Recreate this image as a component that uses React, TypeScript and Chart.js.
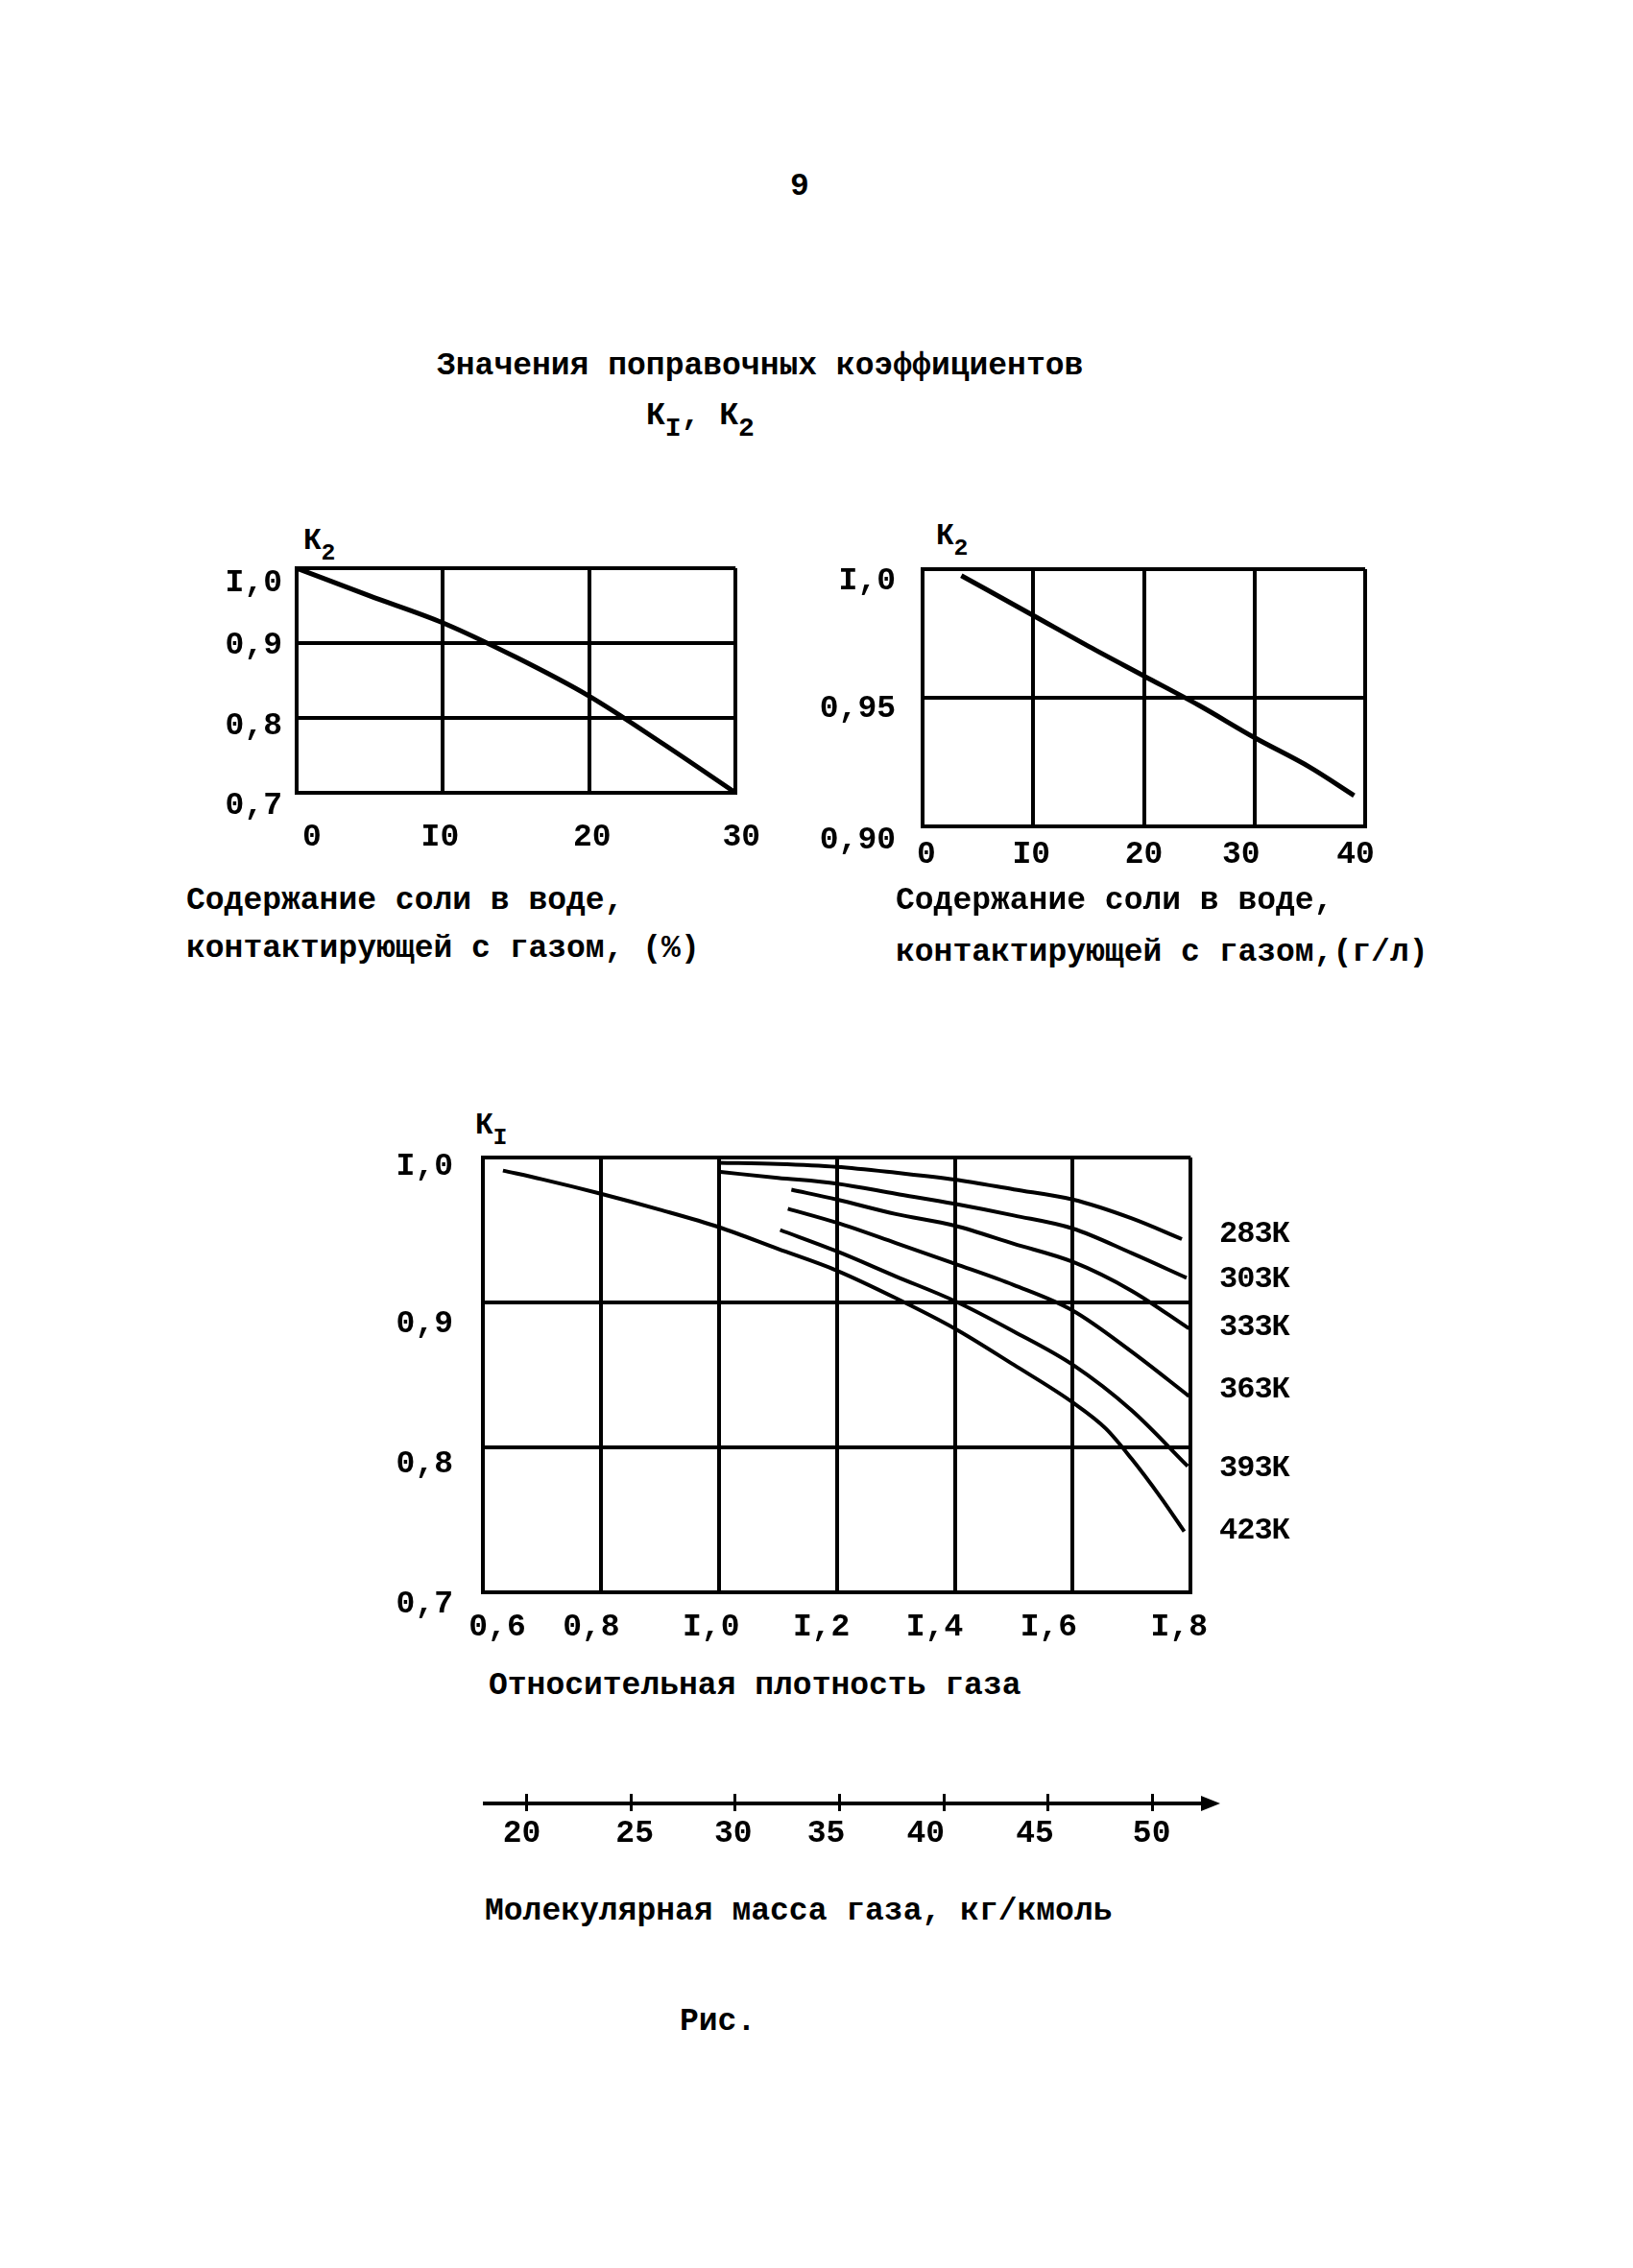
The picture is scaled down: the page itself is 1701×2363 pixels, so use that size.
import React, { useEffect, useRef } from 'react';
import { Chart, registerables } from 'chart.js';

Chart.register(...registerables);

const FONT = "'Liberation Mono', 'DejaVu Sans Mono', monospace";

// ---- Chart 1: K2 vs salt content, %
const saltPct = [0, 5, 10, 15, 20, 25, 30];
const k2Pct = [1.0, 0.963, 0.927, 0.881, 0.829, 0.766, 0.7];
const pctXTicks = [0, 10, 20, 30];
const pctXLabels = ['0', 'I0', '20', '30'];
const pctYTicks = [0.7, 0.8, 0.9, 1.0];
const pctYLabels = ['0,7', '0,8', '0,9', 'I,0'];

// ---- Chart 2: K2 vs salt content, g/l
const saltGl = [3.5, 10, 15, 20, 25, 30, 35, 39];
const k2Gl = [0.9975, 0.982, 0.97, 0.9585, 0.947, 0.9345, 0.923, 0.912];
const glXTicks = [0, 10, 20, 30, 40];
const glXLabels = ['0', 'I0', '20', '30', '40'];
const glYTicks = [0.9, 0.95, 1.0];
const glYLabels = ['0,90', '0,95', 'I,0'];

// ---- Chart 3: K1 vs relative gas density
const tempLabels = ['283К', '303К', '333К', '363К', '393К', '423К'];
const d283 = [1.0, 1.1, 1.2, 1.3, 1.4, 1.5, 1.6, 1.7, 1.785];
const k283 = [0.9964, 0.9955, 0.9935, 0.9895, 0.9848, 0.978, 0.971, 0.958, 0.9437];
const d303 = [1.003, 1.1, 1.2, 1.3, 1.4, 1.5, 1.6, 1.7, 1.793];
const k303 = [0.99, 0.986, 0.982, 0.975, 0.968, 0.96, 0.951, 0.934, 0.917];
const d333 = [1.123, 1.2, 1.3, 1.4, 1.5, 1.6, 1.7, 1.797];
const k333 = [0.9778, 0.971, 0.961, 0.953, 0.9405, 0.928, 0.908, 0.882];
const d363 = [1.117, 1.2, 1.3, 1.4, 1.5, 1.6, 1.7, 1.797];
const k363 = [0.9647, 0.955, 0.941, 0.9267, 0.912, 0.8944, 0.866, 0.8354];
const d393 = [1.104, 1.2, 1.3, 1.4, 1.5, 1.6, 1.7, 1.795];
const k393 = [0.95, 0.9353, 0.918, 0.901, 0.88, 0.857, 0.8255, 0.787];
const d423 = [0.634, 0.7, 0.8, 0.9, 1.0, 1.1, 1.2, 1.3, 1.4, 1.5, 1.6, 1.656, 1.7, 1.75, 1.789];
const k423 = [0.991, 0.985, 0.975, 0.964, 0.952, 0.937, 0.922, 0.903, 0.882, 0.857, 0.831, 0.813, 0.792, 0.765, 0.742];
const densXTicks = [0.6, 0.8, 1.0, 1.2, 1.4, 1.6, 1.8];
const densXLabels = ['0,6', '0,8', 'I,0', 'I,2', 'I,4', 'I,6', 'I,8'];
const densYTicks = [0.7, 0.8, 0.9, 1.0];
const densYLabels = ['0,7', '0,8', '0,9', 'I,0'];

// ---- Molecular mass axis
const massTicks = [20, 25, 30, 35, 40, 45, 50];
const massLabels = ['20', '25', '30', '35', '40', '45', '50'];
const massMin = 18.0;
const massMax = 52.5;

type AxisSpec = {
  min: number;
  max: number;
  ticks: number[];
  labels: string[];
  pad: number;
  size: number;
};

function axis(spec: AxisSpec, horizontal: boolean, gridW = 4): any {
  return {
    type: 'linear',
    min: spec.min,
    max: spec.max,
    afterBuildTicks: (a: any) => {
      a.ticks = spec.ticks.map((v) => ({ value: v }));
    },
    afterFit: (a: any) => {
      if (horizontal) a.height = spec.size;
      else a.width = spec.size;
    },
    grid: { color: '#000', lineWidth: gridW, drawTicks: false },
    border: { display: true, color: '#000', width: gridW },
    ticks: {
      color: '#000',
      font: { family: FONT, size: 33, weight: 'bold' },
      padding: spec.pad,
      labelOffset: 0,
      maxRotation: 0,
      minRotation: 0,
      autoSkip: false,
      callback: (_v: any, i: number) => spec.labels[i],
    },
  };
}

const pts = (xs: number[], ys: number[]) => xs.map((x, i) => ({ x, y: ys[i] }));

const line = (xs: number[], ys: number[], w: number) => ({
  data: pts(xs, ys),
  showLine: true,
  borderColor: '#000',
  backgroundColor: '#000',
  borderWidth: w,
  pointRadius: 0,
  cubicInterpolationMode: 'monotone',
  fill: false,
});

// shifts individual tick labels (layout only) the way the hand-typed labels sit on the page
const nudgePlugin = {
  id: 'tickNudge',
  beforeDraw(chart: any, _args: any, opts: any) {
    ['x', 'y'].forEach((id) => {
      const offs: number[] | undefined = opts && opts[id];
      const scale = chart.scales[id];
      if (!offs || !scale || !scale.getLabelItems) return;
      const items = scale.getLabelItems();
      items.forEach((it: any, i: number) => {
        if (it.__nudged) return;
        it.__nudged = true;
        const t = it.options.translation;
        if (id === 'x') t[0] += offs[i] || 0;
        else t[1] += offs[i] || 0;
      });
    });
  },
};

function baseOptions(padding: any, scales: any, nudge: any): any {
  return {
    animation: false,
    responsive: false,
    maintainAspectRatio: false,
    events: [],
    layout: { padding, autoPadding: false },
    plugins: {
      legend: { display: false },
      tooltip: { enabled: false },
      title: { display: false },
      tickNudge: nudge,
    },
    scales,
  };
}

function ChartBox(props: { left: number; top: number; width: number; height: number; build: () => any }) {
  const ref = useRef<HTMLCanvasElement>(null);
  useEffect(() => {
    const chart = new Chart(ref.current as HTMLCanvasElement, props.build());
    return () => chart.destroy();
  }, []);
  return (
    <canvas
      ref={ref}
      width={props.width}
      height={props.height}
      style={{ position: 'absolute', left: props.left, top: props.top, width: props.width, height: props.height }}
    />
  );
}

const arrowPlugin = {
  id: 'axisArrow',
  afterDraw(chart: any) {
    const s = chart.scales.x;
    const ctx = chart.ctx;
    const y = s.top;
    const x = s.right;
    ctx.save();
    ctx.fillStyle = '#000';
    ctx.beginPath();
    ctx.moveTo(x - 4, y - 8);
    ctx.lineTo(x + 16, y);
    ctx.lineTo(x - 4, y + 8);
    ctx.closePath();
    ctx.fill();
    ctx.restore();
  },
};

function Txt(props: { x: number; y: number; size?: number; center?: boolean; spacing?: number; children: any }) {
  return (
    <div
      style={{
        position: 'absolute',
        left: props.x,
        top: props.y - 18,
        lineHeight: '40px',
        fontSize: props.size ?? 33,
        fontFamily: FONT,
        fontWeight: 'bold',
        whiteSpace: 'pre',
        color: '#000',
        letterSpacing: props.spacing ?? 0,
        transform: props.center ? 'translateX(-50%)' : undefined,
      }}
    >
      {props.children}
    </div>
  );
}

function KSub(props: { x: number; y: number; sub: string; size?: number }) {
  const size = props.size ?? 31;
  return (
    <Txt x={props.x} y={props.y} size={size}>
      К<span style={{ fontSize: size * 0.8, position: 'relative', top: 11 }}>{props.sub}</span>
    </Txt>
  );
}

export default function App() {
  const build1 = () => ({
    type: 'scatter',
    data: { datasets: [line(saltPct, k2Pct, 5)] },
    options: baseOptions(
      { top: 60, right: 40, left: 0, bottom: 0 },
      {
        x: axis({ min: 0, max: 30, ticks: pctXTicks, labels: pctXLabels, pad: 27, size: 80 }, true),
        y: axis({ min: 0.7, max: 1.0, ticks: pctYTicks, labels: pctYLabels, pad: 15, size: 159 }, false),
      },
      { x: [16, -3, 3, 6], y: [14, 9, 3, 16] }
    ),
    plugins: [nudgePlugin],
  });

  const build2 = () => ({
    type: 'scatter',
    data: { datasets: [line(saltGl, k2Gl, 5)] },
    options: baseOptions(
      { top: 60, right: 40, left: 0, bottom: 0 },
      {
        x: axis({ min: 0, max: 40, ticks: glXTicks, labels: glXLabels, pad: 10, size: 60 }, true),
        y: axis({ min: 0.9, max: 1.0, ticks: glYTicks, labels: glYLabels, pad: 28, size: 141 }, false),
      },
      { x: [4, -2, 0, -14, -10], y: [15, 12, 13] }
    ),
    plugins: [nudgePlugin],
  });

  const build3 = () => ({
    type: 'scatter',
    data: {
      datasets: [
        { label: tempLabels[0], ...line(d283, k283, 4) },
        { label: tempLabels[1], ...line(d303, k303, 4) },
        { label: tempLabels[2], ...line(d333, k333, 4) },
        { label: tempLabels[3], ...line(d363, k363, 4) },
        { label: tempLabels[4], ...line(d393, k393, 4) },
        { label: tempLabels[5], ...line(d423, k423, 4) },
      ],
    },
    options: baseOptions(
      { top: 70, right: 40, left: 0, bottom: 0 },
      {
        x: axis({ min: 0.6, max: 1.8, ticks: densXTicks, labels: densXLabels, pad: 17, size: 70 }, true),
        y: axis({ min: 0.7, max: 1.0, ticks: densYTicks, labels: densYLabels, pad: 31, size: 123 }, false),
      },
      { x: [15, -10, -8, -16, -21, -25, -12], y: [13, 18, 23, 10] }
    ),
    plugins: [nudgePlugin],
  });

  const build4 = () => {
    const x = axis({ min: massMin, max: massMax, ticks: massTicks, labels: massLabels, pad: 4, size: 60 }, true, 4);
    x.grid = { color: '#000', lineWidth: 3, drawTicks: true, tickLength: 8, drawOnChartArea: true };
    return {
      type: 'scatter',
      data: { datasets: [] },
      options: baseOptions(
        { top: 19, right: 40, left: 25, bottom: 0 },
        {
          x,
          y: { type: 'linear', display: false, min: 0, max: 1 },
        },
        { x: [-5, 4, -2, -14, -19, -14, -1] }
      ),
      plugins: [arrowPlugin, nudgePlugin],
    };
  };

  const seriesLabelY = [1284, 1331, 1381, 1446, 1528, 1593];

  return (
    <div style={{ position: 'absolute', left: 0, top: 0, width: 1701, height: 2363, background: '#fff', overflow: 'hidden' }}>
      <Txt x={833} y={193} center>9</Txt>
      <Txt x={455} y={380}>Значения поправочных коэффициентов</Txt>
      <Txt x={673} y={432}>
        К<span style={{ fontSize: 28, position: 'relative', top: 12 }}>I</span>,{' '}
        К<span style={{ fontSize: 28, position: 'relative', top: 12 }}>2</span>
      </Txt>

      <KSub x={316} y={562} sub="2" />
      <ChartBox left={150} top={532} width={663} height={374} build={build1} />
      <Txt x={194} y={937}>Содержание соли в воде,</Txt>
      <Txt x={194} y={987}>контактирующей с газом, (%)</Txt>

      <KSub x={975} y={557} sub="2" />
      <ChartBox left={820} top={533} width={642} height={388} build={build2} />
      <Txt x={933} y={937}>Содержание соли в воде,</Txt>
      <Txt x={933} y={991}>контактирующей с газом,(г/л)</Txt>

      <KSub x={495} y={1171} sub="I" />
      <ChartBox left={380} top={1136} width={907} height={593} build={build3} />
      {tempLabels.map((t, i) => (
        <Txt key={t} x={1270} y={seriesLabelY[i]} size={32} spacing={-1}>
          {t}
        </Txt>
      ))}
      <Txt x={509} y={1755}>Относительная плотность газа</Txt>

      <ChartBox left={480} top={1850} width={815} height={89} build={build4} />
      <Txt x={505} y={1990}>Молекулярная масса газа, кг/кмоль</Txt>

      <Txt x={708} y={2105}>Рис.</Txt>
    </div>
  );
}
